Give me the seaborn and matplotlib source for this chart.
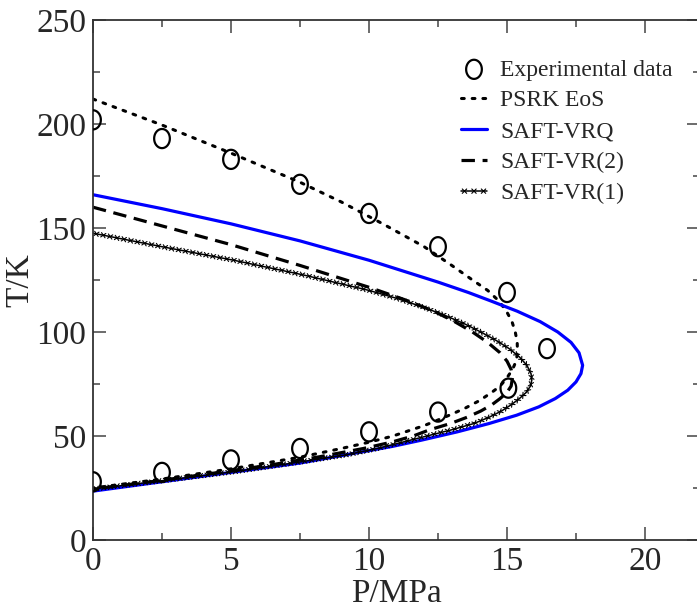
import numpy as np
import pandas as pd
import matplotlib
matplotlib.use("Agg")
import matplotlib.pyplot as plt
import matplotlib.patheffects as pe
from matplotlib.path import Path
from matplotlib.ticker import MultipleLocator
import seaborn as sns

# ---------------- data ----------------
exp_P = [0, 2.5, 5, 7.5, 10, 12.5, 15, 16.45, 15.05, 12.5, 10, 7.5, 5, 2.5, 0]
exp_T = [202, 193, 183, 171, 157, 141, 119, 92, 73, 61.5, 52, 44, 38.5, 32.5, 28]

psrk_P = [0, 2.5, 5, 7.5, 9, 10.5, 12, 13, 13.75, 14.3, 14.7, 14.98, 15.18, 15.3,
          15.37, 15.38, 15.33, 15.2, 15.0, 14.75, 14.45, 14.0, 13.5, 13.0, 12.5,
          12.0, 11.5, 10.87, 10, 9, 7.5, 5, 2.5, 0]
psrk_T = [212, 199.5, 186, 172, 162.5, 152, 141, 132, 125, 120, 115, 110, 105, 100,
          95, 90, 86, 82, 78, 74, 71, 67, 63.5, 60.5, 57.7,
          55, 52.8, 50, 47, 44, 39.8, 34.2, 29.3, 25]

vrq_P = [0, 2.5, 5, 7.5, 10, 12.5, 13.6, 14.4, 15.37, 16.2, 16.84, 17.32, 17.61,
         17.74, 17.68, 17.5, 17.2, 16.75, 16.15, 15.35, 14.35, 13.2, 11.9, 10.85,
         9.6, 7.5, 5, 2.5, 0]
vrq_T = [166, 159.3, 152, 143.8, 134.5, 124, 119, 115, 110, 105, 100, 95, 90,
         84, 80, 76, 72, 68, 64, 60, 56, 52, 48, 45,
         42, 37, 32.5, 28, 23.5]

vr2_P = [0, 2.5, 5, 7.5, 10, 11.3, 12.35, 13.1, 13.75, 14.3, 14.75, 15.0, 15.15,
         15.2, 15.15, 15.0, 14.75, 14.45, 14.05, 13.55, 12.95, 12.2, 11.6, 10.8,
         9.8, 8.2, 6.4, 4.3, 2.1, 0]
vr2_T = [160, 151, 142, 132, 121.5, 115.5, 110, 105, 100, 95, 90, 86, 82,
         78, 74, 71, 68, 65, 62, 59, 56, 53, 50, 47,
         44, 40, 36, 32, 28, 24.5]

vr1_P = [0, 2.5, 5.1, 7.6, 10.0, 11.05, 11.95, 12.75, 13.45, 14.05, 14.6, 15.08,
         15.45, 15.72, 15.87, 15.9, 15.85, 15.7, 15.45, 15.15, 14.8, 14.35, 13.8,
         13.0, 12.1, 11.2, 10.3, 9.2, 7.5, 5.2, 2.5, 0]
vr1_T = [147.5, 141, 134.5, 127.5, 120, 116, 112, 108, 104, 100, 96, 92,
         88, 84, 80, 77, 74, 71, 68, 65, 62, 59, 56,
         53, 50, 47, 44, 41, 37.5, 33, 28.5, 24.5]

labels = ["Experimental data", "PSRK EoS", "SAFT-VRQ", "SAFT-VR(2)", "SAFT-VR(1)"]

x_ticks = [0, 5, 10, 15, 20]
y_ticks = [0, 50, 100, 150, 200, 250]

# ---------------- figure ----------------
sns.set_theme(style="ticks")
plt.rcParams["font.family"] = ["Liberation Serif", "DejaVu Serif"]

W, H = 697, 608
fig = plt.figure(figsize=(W / 100, H / 100), dpi=100)
ax_l, ax_r, ax_t, ax_b = 93, 700.2, 20, 540
ax = fig.add_axes([ax_l / W, 1 - ax_b / H, (ax_r - ax_l) / W, (ax_b - ax_t) / H])


def frame(P, T):
    return pd.DataFrame({"P": P, "T": T})


# PSRK dotted
sns.lineplot(data=frame(psrk_P, psrk_T), x="P", y="T", sort=False, estimator=None,
             ax=ax, color="black", lw=2.2, label=labels[1])
ax.lines[-1].set_linestyle((0, (0.9, 2.6)))
ax.lines[-1].set_dash_capstyle("round")

# SAFT-VRQ blue
sns.lineplot(data=frame(vrq_P, vrq_T), x="P", y="T", sort=False, estimator=None,
             ax=ax, color="#0000ff", lw=2.3, label=labels[2])
ax.lines[-1].set_solid_joinstyle("round")

# SAFT-VR(2) dashed
sns.lineplot(data=frame(vr2_P, vr2_T), x="P", y="T", sort=False, estimator=None,
             ax=ax, color="black", lw=2.3, label=labels[3])
ax.lines[-1].set_linestyle((0, (4.2, 2.4)))

# SAFT-VR(1) solid with x marks
sns.lineplot(data=frame(vr1_P, vr1_T), x="P", y="T", sort=False, estimator=None,
             ax=ax, color="black", lw=1.1, label=labels[4])
ticks_fx = [pe.TickedStroke(spacing=5.0, angle=a, length=0.45, linewidth=0.8)
            for a in (45, 135, -45, -135)]
ax.lines[-1].set_path_effects(ticks_fx + [pe.Normal()])

# Experimental data (vertically elongated circles)
theta = np.linspace(0, 2 * np.pi, 60)
ell = Path(np.column_stack([np.cos(theta), 1.22 * np.sin(theta)]), closed=True)
sns.scatterplot(data=frame(exp_P, exp_T), x="P", y="T", ax=ax, marker=ell, s=190,
                facecolor="none", edgecolor="black", linewidth=1.6,
                label=labels[0], zorder=5)

# ---------------- axes ----------------
ax.set_xlim(0, 22)
ax.set_ylim(0, 250)
ax.set_xticks(x_ticks)
ax.set_yticks(y_ticks)
ax.xaxis.set_minor_locator(MultipleLocator(2.5))
ax.yaxis.set_minor_locator(MultipleLocator(25))
ax.tick_params(which="both", direction="in", top=True, right=True,
               color="#444444", width=1.1)
ax.tick_params(which="major", length=9.5, labelsize=24, pad=5)
ax.tick_params(which="minor", length=5)
for s in ax.spines.values():
    s.set_linewidth(1.3)
    s.set_color("#333333")

ax.set_xlabel("P/MPa", fontsize=24, labelpad=0.5)
ax.set_ylabel("T/K", fontsize=24)
ax.yaxis.set_label_coords((35 - ax_l) / (ax_r - ax_l), 0.5)

# ---------------- legend ----------------
handles, lbls = ax.get_legend_handles_labels()
order = [lbls.index(l) for l in labels]
leg = ax.legend([handles[i] for i in order], [lbls[i] for i in order],
                loc="upper left", bbox_to_anchor=(461 / W, 1 - 59 / H),
                bbox_transform=fig.transFigure, frameon=False, fontsize=17,
                handlelength=1.1, handletextpad=0.55, labelspacing=0.4,
                borderpad=0, borderaxespad=0)

fig.savefig("out.png", dpi=100)
